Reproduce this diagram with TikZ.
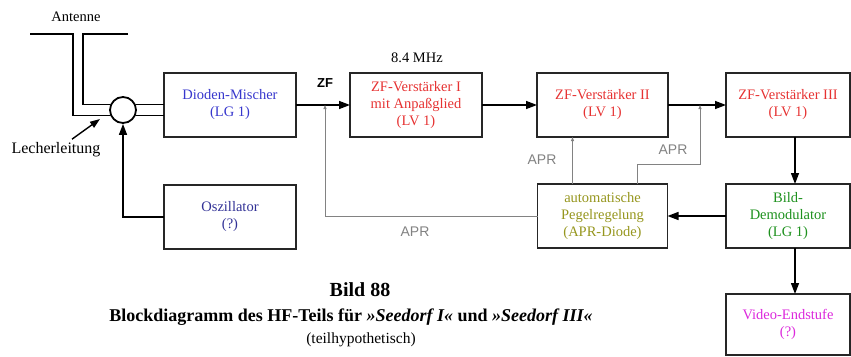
\documentclass[tikz,border=0pt]{standalone}
\usepackage{fontspec}
\setmainfont{Liberation Serif}
\setsansfont{Liberation Sans}
\usepackage{xcolor}
\usetikzlibrary{arrows.meta,positioning}

\definecolor{mischblue}{RGB}{55,55,205}
\definecolor{oszblue}{RGB}{50,50,150}
\definecolor{zfred}{RGB}{230,50,50}
\definecolor{aprolive}{RGB}{150,150,30}
\definecolor{demodgreen}{RGB}{30,145,30}
\definecolor{videomag}{RGB}{220,40,220}
\definecolor{aprgray}{RGB}{130,130,130}

\begin{document}
\begin{tikzpicture}[
  x=1pt, y=-1pt,
  node distance=47pt and 55pt,
  every node/.style={font=\fontsize{14.5}{17}\selectfont},
  block/.style={draw=black!85, line width=1.5pt, align=center, minimum height=64pt, inner sep=0pt, outer sep=0pt},
  wide/.style={block, minimum width=132pt},
  narrow/.style={block, minimum width=124pt},
  wire/.style={line width=1.4pt},
  sig/.style={wire, -{Triangle[length=11pt,width=8pt]}},
  aprline/.style={aprgray, line width=0.9pt, -{Triangle[length=4pt,width=3pt]}},
  aprlabel/.style={aprgray, font=\sffamily\fontsize{14}{16}\selectfont}
]
\useasboundingbox (0,0) rectangle (851,356);

% main chain
\node[wide, text=mischblue] (mischer) at (230,105) {Dioden-Mischer\\(LG 1)};
\node[wide, text=zfred, right=54pt of mischer] (zf1) {ZF-Verstärker I\\mit Anpaßglied\\(LV 1)};
\node[block, minimum width=131pt, text=zfred, right=of zf1] (zf2) {ZF-Verstärker II\\(LV 1)};
\node[narrow, text=zfred, right=58pt of zf2] (zf3) {ZF-Verstärker III\\(LV 1)};
\node[wide, text=oszblue, below=48pt of mischer] (osz) {Oszillator\\(?)};
\node[block, minimum width=130pt, text=aprolive, below=of zf2] (apr) {automatische\\Pegelregelung\\(APR-Diode)};
\node[narrow, text=demodgreen, below=of zf3] (bild) {Bild-\\Demodulator\\(LG 1)};
\node[narrow, minimum height=61pt, text=videomag, below=46pt of bild] (video) {Video-Endstufe\\(?)};

% antenna and mixer
\node[circle, draw, line width=1.8pt, minimum size=26pt, inner sep=0pt] (mixer) at (123,110) {};
\node (antenne) at (76,17) {Antenne};
\node[font=\fontsize{16}{18}\selectfont] (lecher) at (56,150) {Lecherleitung};
\coordinate (antL) at (30,34);
\coordinate (antR) at (128,34);
\coordinate (lecherpt) at (100,119);
\draw[wire] (antL) -- ++(43,0) |- (mixer.203);
\draw[wire] (antR) -- ++(-45,0) |- (mixer.157);
\draw[wire] (mixer.23) -- (mixer.23 -| mischer.west);
\draw[wire] (mixer.-23) -- (mixer.-23 -| mischer.west);
\draw[wire, -{Triangle[length=10pt,width=7pt]}] ([xshift=16pt]lecher.north) -- (lecherpt);
\draw[sig] (osz.west) -| (mixer.south);

% signal path
\draw[sig] (mischer) -- (zf1);
\draw[sig] (zf1) -- (zf2);
\draw[sig] (zf2) -- (zf3);
\draw[sig] ([xshift=7pt]zf3.south) -- ([xshift=7pt]bild.north);
\draw[sig] (bild) -- (apr);
\draw[sig] ([xshift=7pt]bild.south) -- ([xshift=7pt]video.north);
\node[font=\sffamily\bfseries\fontsize{13}{15}\selectfont] (zf) at (325,83) {ZF};
\node (mhz) at (417,58) {8.4 MHz};

% APR control lines
\coordinate (aprtap1) at (325,105);
\coordinate (aprtap3) at (700,105);
\draw[aprline] (apr.west) -| (aprtap1);
\draw[aprline] ([xshift=-30pt]apr.north) -- ([xshift=-30pt]zf2.south);
\draw[aprline] ([xshift=35pt]apr.north) -- ++(0,-20) -| (aprtap3);
\node[aprlabel] (apr1) at (415,232) {APR};
\node[aprlabel] (apr2) at (542,160) {APR};
\node[aprlabel] (apr3) at (673,150) {APR};

% caption
\node[font=\bfseries\fontsize{20}{24}\selectfont] (bild88) at (360,290) {Bild 88};
\node[font=\bfseries\fontsize{18}{20}\selectfont] (caption) at (351,317) {Blockdiagramm des HF-Teils für \textit{»Seedorf I«} und \textit{»Seedorf III«}};
\node[font=\fontsize{15.5}{18}\selectfont] (hypo) at (361,340) {(teilhypothetisch)};
\end{tikzpicture}
\end{document}
